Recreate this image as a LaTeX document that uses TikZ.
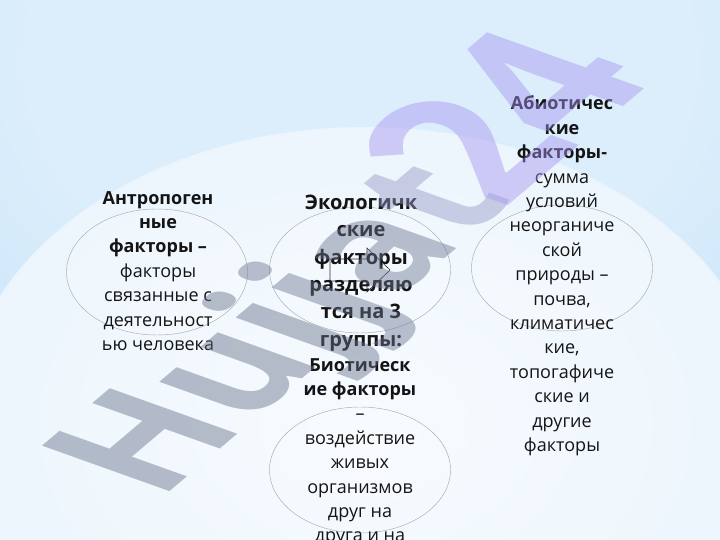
\documentclass[tikz,border=0pt]{standalone}
\usepackage{fontspec}
\setmainfont{Open Sans}
\usetikzlibrary{shapes.geometric}
\definecolor{bgA}{HTML}{A4D0F4}
\definecolor{bgB}{HTML}{DCEEFB}
\definecolor{glowE}{HTML}{D6EAFA}
\definecolor{glowM}{HTML}{ECF5FD}
\definecolor{glowC}{HTML}{F7FBFE}
\definecolor{ellc}{HTML}{A8ACB2}
\definecolor{txtc}{HTML}{141414}
\definecolor{arrc}{HTML}{2E2E2E}
\definecolor{wA}{HTML}{66708A}
\definecolor{wB}{HTML}{6C7490}
\definecolor{wC}{HTML}{9698C4}
\definecolor{wD}{HTML}{A694F0}
\pgfdeclareradialshading{topglow}{\pgfpoint{0bp}{0bp}}{color(0bp)=(bgB); color(14bp)=(bgB); color(50bp)=(bgA)}
\pgfdeclareradialshading{glow}{\pgfpoint{0bp}{0bp}}{color(0bp)=(glowC); color(26bp)=(glowM); color(49bp)=(glowE); color(50bp)=(glowE)}
\begin{document}
\begin{tikzpicture}[x=1pt,y=1pt,
  ell/.style={draw=ellc, line width=0.45pt, fill=white, fill opacity=0.15, ellipse, minimum width=181pt, minimum height=126pt, inner sep=0pt},
  txt/.style={align=center, text=txtc, inner sep=0pt, font=\fontsize{18}{24.4}\selectfont},
  ttl/.style={align=center, text=txtc, inner sep=0pt, font=\fontsize{20}{27.4}\selectfont\bfseries},
  wm/.style={inner sep=0pt, font=\fontsize{213}{213}\selectfont\bfseries}
]
\useasboundingbox (0,0) rectangle (720,-540);
\begin{scope}
\clip (0,0) rectangle (720,-540);
% background
\fill[bgA] (0,0) rectangle (720,-540);
\shade[shading=topglow] (360,-60) ellipse [x radius=580, y radius=440];
\shade[shading=glow] (365,-425) ellipse [x radius=405, y radius=298];
% circles
\node[ell] (cL) at (157,-272) {};
\node[ell] (cC) at (360,-270) {};
\node[ell] (cR) at (562,-268) {};
\node[ell] (cB) at (360,-470) {};
% arrow icon
\draw[arrc, line width=0.6pt, line join=miter]
  (330,-259) -- (367,-259) -- (367,-248) -- (390,-270) -- (367,-292) -- (367,-281) -- (330,-281) -- cycle;
% texts
\node[txt] (tL) at (158,-271) {\textbf{Антропоген}\\ \textbf{ные}\\ \textbf{факторы –}\\ факторы\\ связанные с\\ деятельност\\ ью человека};
\node[ttl] (tC) at (361,-273) {Экологичк\\ ские\\ факторы\\ разделяю\\ тся на 3\\ группы:};
\node[txt, anchor=north] (tB) at (360,-358) {\textbf{Биотическ}\\ \textbf{ие факторы}\\ –\\ воздействие\\ живых\\ организмов\\ друг на\\ друга и на};
\node[txt] (tR) at (562,-276) {\textbf{Абиотичес}\\ \textbf{кие}\\ \textbf{факторы-}\\ сумма\\ условий\\ неорганиче\\ ской\\ природы –\\ почва,\\ климатичес\\ кие,\\ топогафиче\\ ские и\\ другие\\ факторы};
% watermark
\begin{scope}[yscale=0.55, opacity=0.45]
\node[wm, anchor=base west, rotate=57, transform shape] (wmk) at (159.6,-909.3)
  {\textcolor{wA}{H}\textcolor{wA}{u}\textcolor{wA}{j}\textcolor{wB}{j}\textcolor{wB}{a}\textcolor{wC}{t}\kern-0.12em{\fontsize{262}{262}\selectfont\textcolor{wD}{2}\kern-0.04em\textcolor{wD}{4}}};
\end{scope}
\end{scope}
\end{tikzpicture}
\end{document}
